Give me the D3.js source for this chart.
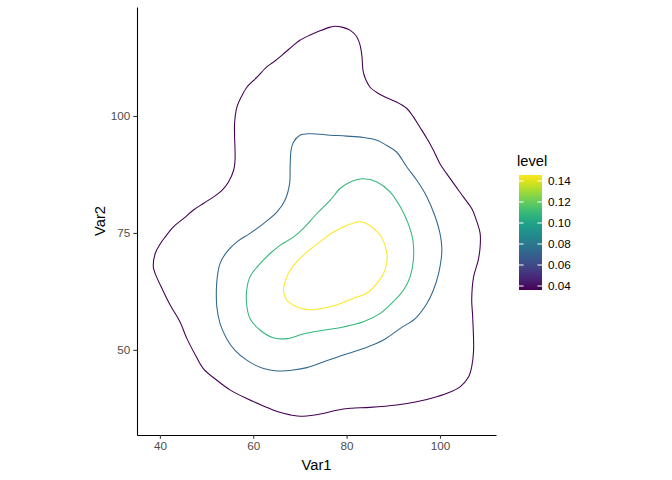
<!DOCTYPE html>
<html lang="en">
<head>
    <meta charset="UTF-8">
    <title>Density contours</title>
    <script src="https://d3js.org/d3.v7.min.js"></script>
    <style>
        body { margin: 0; background: #fff; }
        svg { display: block; font-family: "Liberation Sans", Arial, sans-serif; }
    </style>
    <script>
        // contour levels (lowest -> highest)
        const LEVELS = [0.0362, 0.0727, 0.1092, 0.1457];

        // contour paths in data units [Var1, Var2]
        const LEVEL1 = [
            [56.1, 90.5], [56.0, 98.4], [56.5, 101.9], [57.6, 104.4], [58.6, 106.1], [60.8, 108.3],
            [62.9, 110.5], [64.3, 111.5], [66.5, 113.3], [68.6, 115.1], [70.0, 116.2], [72.2, 117.3],
            [74.3, 118.2], [76.5, 119.0], [77.5, 119.2], [79.0, 119.0], [80.8, 118.3], [82.2, 116.9],
            [82.9, 115.1], [83.3, 112.6], [83.5, 109.8], [84.0, 108.0], [85.0, 106.2], [86.8, 104.8],
            [88.6, 103.9], [90.7, 103.0], [92.9, 101.6], [94.3, 99.8], [95.7, 97.6], [97.2, 95.2],
            [98.6, 92.7], [100.0, 89.8], [102.2, 86.6], [105.0, 82.7], [106.8, 80.2], [107.9, 77.4],
            [108.6, 74.9], [108.6, 72.0], [108.2, 69.2], [107.2, 65.6], [106.8, 60.8], [107.0, 57.1],
            [107.2, 49.9], [106.8, 46.4], [106.1, 44.2], [104.3, 42.1], [102.2, 41.0], [99.3, 40.0],
            [95.0, 38.9], [90.7, 38.2], [85.0, 37.7], [80.8, 37.5], [77.9, 37.1], [75.0, 36.4],
            [70.7, 35.8], [67.9, 36.1], [65.1, 36.8], [62.2, 38.0], [58.6, 39.6], [55.1, 41.4],
            [52.2, 43.5], [49.3, 46.0], [47.6, 48.9], [45.8, 52.4], [44.3, 56.0], [42.2, 59.6],
            [40.6, 62.8], [39.0, 66.3], [38.6, 67.7], [39.0, 70.6], [40.1, 72.7], [41.1, 74.1],
            [42.9, 76.3], [45.1, 78.1], [47.2, 79.9], [49.3, 81.3], [51.5, 82.7], [53.3, 84.1],
            [54.7, 85.9], [55.8, 88.4]
        ];
        const LEVEL2 = [
            [68.1, 92.7], [68.6, 94.4], [70.0, 95.9], [72.2, 96.2], [76.5, 95.9], [80.0, 95.7],
            [83.6, 95.4], [86.5, 94.8], [88.6, 93.7], [90.7, 92.3], [92.9, 89.1], [95.0, 86.3],
            [97.2, 82.7], [99.0, 78.4], [100.0, 74.9], [100.4, 71.3], [99.7, 66.3], [98.6, 62.8],
            [97.2, 59.9], [94.7, 56.7], [91.5, 54.6], [87.9, 52.1], [83.6, 50.3], [79.3, 48.9],
            [75.0, 47.4], [71.5, 46.2], [68.6, 45.7], [65.1, 45.5], [62.2, 46.0], [58.6, 47.8],
            [56.1, 49.9], [54.3, 52.4], [52.9, 55.6], [52.2, 59.2], [52.1, 62.8], [52.3, 65.6],
            [52.9, 68.5], [54.3, 70.9], [56.5, 73.1], [59.3, 74.9], [62.2, 77.0], [65.1, 79.5],
            [66.8, 82.0], [67.8, 85.6], [67.9, 89.1]
        ];
        const LEVEL3 = [
            [83.6, 86.6], [86.5, 85.9], [89.3, 83.8], [91.5, 80.6], [93.2, 77.0], [94.2, 73.4],
            [94.3, 69.2], [93.6, 65.6], [92.2, 62.8], [90.0, 60.3], [87.2, 57.8], [83.6, 56.0],
            [79.3, 54.9], [75.0, 54.2], [70.7, 53.4], [67.2, 52.4], [64.3, 52.6], [61.5, 54.2],
            [59.3, 56.7], [58.6, 59.6], [58.6, 62.8], [59.3, 65.6], [60.8, 67.7], [63.6, 70.6],
            [65.8, 72.4], [68.6, 74.1], [70.7, 75.9], [73.6, 79.1], [76.5, 82.0], [78.6, 84.5],
            [80.8, 85.9]
        ];
        const LEVEL4 = [
            [82.9, 77.4], [85.0, 76.6], [87.2, 74.5], [88.2, 72.4], [88.7, 69.9], [88.2, 67.0],
            [86.5, 64.2], [84.3, 62.1], [82.2, 61.3], [77.9, 59.6], [73.6, 58.7], [71.5, 58.6],
            [69.3, 59.2], [67.2, 60.6], [66.5, 62.8], [67.5, 66.3], [69.3, 68.8], [71.5, 70.9],
            [74.3, 73.1], [77.2, 75.2], [80.0, 76.6]
        ];

        const X_TICKS = [40, 60, 80, 100];
        const Y_TICKS = [50, 75, 100];
        const LEGEND_TICKS = [0.04, 0.06, 0.08, 0.10, 0.12, 0.14];

        document.addEventListener("DOMContentLoaded", function() {
            drawChart();
        });

        function drawChart() {
            const width = 672, height = 480;
            const svg = d3.select("svg").attr("width", width).attr("height", height);

            const x = d3.scaleLinear().domain([35.1, 112.0]).range([137, 496]);
            const y = d3.scaleLinear().domain([31.8, 123.3]).range([435, 7]);

            const color = d3.scaleSequential(d3.interpolateViridis)
                .domain([LEVELS[0], LEVELS[LEVELS.length - 1]]);

            const contours = [LEVEL1, LEVEL2, LEVEL3, LEVEL4].map((pts, i) => ({level: LEVELS[i], pts: pts}));

            const line = d3.line()
                .x(d => x(d[0]))
                .y(d => y(d[1]))
                .curve(d3.curveCatmullRomClosed.alpha(0.5));

            svg.append("g").selectAll("path")
                .data(contours)
                .enter()
                .append("path")
                .attr("d", d => line(d.pts))
                .attr("fill", "none")
                .attr("stroke", d => color(d.level))
                .attr("stroke-width", 1.07);

            // axes
            const xAxis = svg.append("g")
                .attr("transform", "translate(0,435)")
                .call(d3.axisBottom(x).tickValues(X_TICKS).tickSize(3.7).tickSizeOuter(0).tickPadding(3));
            const yAxis = svg.append("g")
                .attr("transform", "translate(137,0)")
                .call(d3.axisLeft(y).tickValues(Y_TICKS).tickSize(3.7).tickSizeOuter(0).tickPadding(3));

            [xAxis, yAxis].forEach(g => {
                g.select(".domain").attr("stroke", "#000").attr("stroke-width", 1.07);
                g.selectAll(".tick line").attr("stroke", "#333").attr("stroke-width", 1.07);
                g.selectAll(".tick text")
                    .attr("fill", "#4d4d4d")
                    .style("font-size", "11.7px")
                    .style("font-family", "'Liberation Sans', Arial, sans-serif");
            });

            svg.append("text")
                .attr("x", 316.5)
                .attr("y", 470)
                .attr("text-anchor", "middle")
                .style("font-size", "14.7px")
                .text("Var1");

            svg.append("text")
                .attr("transform", "translate(104.5,221) rotate(-90)")
                .attr("text-anchor", "middle")
                .style("font-size", "14.7px")
                .text("Var2");

            // legend colorbar
            const barX = 519, barW = 23, barTop = 175, barBottom = 290;
            const ly = d3.scaleLinear().domain(color.domain()).range([barBottom, barTop]);

            const defs = svg.append("defs");
            const grad = defs.append("linearGradient")
                .attr("id", "bar-grad")
                .attr("x1", 0).attr("y1", 1).attr("x2", 0).attr("y2", 0);
            d3.range(0, 1.0001, 0.05).forEach(t => {
                grad.append("stop")
                    .attr("offset", t)
                    .attr("stop-color", d3.interpolateViridis(t));
            });

            svg.append("rect")
                .attr("x", barX)
                .attr("y", barTop)
                .attr("width", barW)
                .attr("height", barBottom - barTop)
                .attr("fill", "url(#bar-grad)");

            const lg = svg.append("g");
            lg.selectAll("line.l")
                .data(LEGEND_TICKS)
                .enter()
                .append("line")
                .attr("x1", barX).attr("x2", barX + 4.6)
                .attr("y1", d => ly(d)).attr("y2", d => ly(d))
                .attr("stroke", "#fff").attr("stroke-width", 1);
            lg.selectAll("line.r")
                .data(LEGEND_TICKS)
                .enter()
                .append("line")
                .attr("x1", barX + barW - 4.6).attr("x2", barX + barW)
                .attr("y1", d => ly(d)).attr("y2", d => ly(d))
                .attr("stroke", "#fff").attr("stroke-width", 1);

            lg.selectAll("text")
                .data(LEGEND_TICKS)
                .enter()
                .append("text")
                .attr("x", barX + barW + 6)
                .attr("y", d => ly(d))
                .attr("dy", "0.35em")
                .style("font-size", "11.7px")
                .text(d => d3.format(".2f")(d));

            svg.append("text")
                .attr("x", 517)
                .attr("y", 166)
                .style("font-size", "14.7px")
                .text("level");
        }
    </script>
</head>
<body>
    <svg id="chart"></svg>
</body>
</html>
